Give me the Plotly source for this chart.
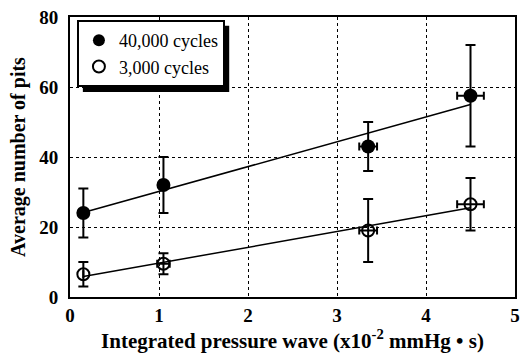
import numpy as np
import plotly.graph_objects as go

# Data
x_40k = [0.15, 1.05, 3.35, 4.5]
y_40k = [24, 32, 43, 57.5]
yerr_40k = [7, 8, 7, 14.5]
xerr_40k = [0.0, 0.0, 0.1, 0.15]

x_3k = [0.15, 1.05, 3.35, 4.5]
y_3k = [6.5, 9.5, 19, 26.5]
yerr_3k = [3.5, 3, 9, 7.5]
xerr_3k = [0.0, 0.07, 0.1, 0.15]

x_ticks = [0, 1, 2, 3, 4, 5]
y_ticks = [0, 20, 40, 60, 80]

fit40 = np.polyfit(x_40k, y_40k, 1)
fit3 = np.polyfit(x_3k, y_3k, 1)
fx = np.array([min(x_40k), max(x_40k)])

SERIF = "Liberation Serif"

fig = go.Figure()
fig.add_trace(go.Scatter(x=fx, y=np.polyval(fit40, fx), mode="lines",
                         line=dict(color="black", width=1.5), showlegend=False, hoverinfo="skip"))
fig.add_trace(go.Scatter(x=fx, y=np.polyval(fit3, fx), mode="lines",
                         line=dict(color="black", width=1.5), showlegend=False, hoverinfo="skip"))

fig.add_trace(go.Scatter(
    x=x_40k, y=y_40k, mode="markers", name="40,000 cycles",
    marker=dict(symbol="circle", size=14, color="black"),
    error_y=dict(type="data", array=yerr_40k, color="black", thickness=2, width=5),
    error_x=dict(type="data", array=xerr_40k, color="black", thickness=2, width=4),
))
fig.add_trace(go.Scatter(
    x=x_3k, y=y_3k, mode="markers", name="3,000 cycles",
    marker=dict(symbol="circle-open", size=12, color="black", line=dict(width=2)),
    error_y=dict(type="data", array=yerr_3k, color="black", thickness=2, width=5),
    error_x=dict(type="data", array=xerr_3k, color="black", thickness=2, width=4),
))

tick_font = dict(family=SERIF, size=19, color="black", weight="bold")
fig.update_xaxes(range=[0, 5], tickvals=x_ticks, showgrid=True, gridcolor="black",
                 griddash="dot", gridwidth=1.2, showline=True, linecolor="black", linewidth=2,
                 mirror=True, ticks="", zeroline=False, tickfont=tick_font,
                 title=dict(text="Integrated pressure wave (x10<sup>-2</sup> mmHg • s)",
                            font=dict(family=SERIF, size=21, color="black", weight="bold"),
                            standoff=4))
fig.update_yaxes(range=[0, 80], tickvals=y_ticks, showgrid=True, gridcolor="black",
                 griddash="dot", gridwidth=1.2, showline=True, linecolor="black", linewidth=2,
                 mirror=True, ticks="", zeroline=False, tickfont=tick_font, ticklabelstandoff=6,
                 title=dict(text="Average number of pits",
                            font=dict(family=SERIF, size=20, color="black", weight="bold"),
                            standoff=8))

# legend shadow (paper coords)
W, H = 450, 284
def px(xp): return (xp - 70) / W
def py(yp): return (297 - yp) / H
fig.add_shape(type="rect", xref="paper", yref="paper", x0=px(83), x1=px(231), y0=py(89), y1=py(22),
              fillcolor="black", line=dict(width=0), layer="above")

fig.update_layout(
    width=527, height=354,
    margin=dict(l=70, r=7, t=13, b=57),
    plot_bgcolor="white", paper_bgcolor="white",
    font=dict(family=SERIF, color="black"),
    legend=dict(x=px(77), y=py(16), xanchor="left", yanchor="top",
                bgcolor="white", bordercolor="black", borderwidth=2,
                font=dict(family=SERIF, size=18, color="black"),
                itemsizing="constant"),
)

fig.write_html("out.html")
